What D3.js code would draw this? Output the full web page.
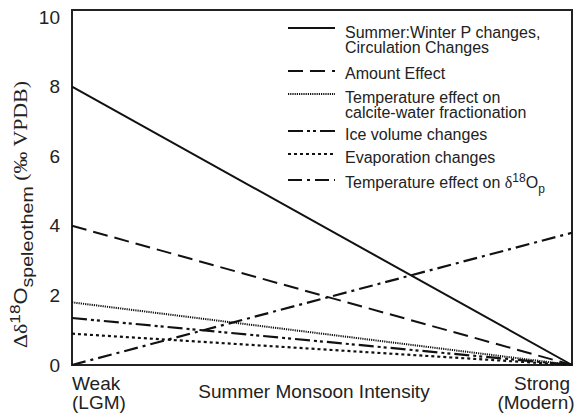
<!DOCTYPE html>
<html><head><meta charset="utf-8">
<script src="https://cdn.jsdelivr.net/npm/d3@7"></script>
<style>
body{margin:0;background:#fff;}
svg text, svg tspan{font-family:"Liberation Sans",Arial,sans-serif;fill:#222;}
</style></head>
<body><svg id="c" width="582" height="415"></svg>
<script>
const categories = ["Weak (LGM)", "Strong (Modern)"];
const seriesNames = ["Summer:Winter P changes, Circulation Changes","Amount Effect","Temperature effect on calcite-water fractionation","Ice volume changes","Evaporation changes","Temperature effect on δ18Op"];
const summerWinter = [8, 0];
const amountEffect = [4, 0];
const tempCalcite = [1.8, 0];
const iceVolume = [1.35, 0];
const evaporation = [0.9, 0];
const tempPrecip = [0, 3.8];
const yTicks = [0, 2, 4, 6, 8, 10];

const series = [
  {name: seriesNames[0], values: summerWinter, dash: null, w: 2},
  {name: seriesNames[1], values: amountEffect, dash: "15,7", w: 2},
  {name: seriesNames[2], values: tempCalcite, dash: "1.2,1", w: 2},
  {name: seriesNames[3], values: iceVolume, dash: "15,4,3,3,3,4", w: 2.2},
  {name: seriesNames[4], values: evaporation, dash: "3,3", w: 2.2},
  {name: seriesNames[5], values: tempPrecip, dash: "14,5,3,5", w: 2.2}
];

const svg = d3.select("#c");
const L = 72, R = 572, T = 10, B = 365;
const x = d3.scalePoint().domain(categories).range([L, R]);
const y = d3.scaleLinear().domain([0, 10.2]).range([B, T]);

// frame
svg.append("rect").attr("x", L).attr("y", T).attr("width", R - L).attr("height", B - T)
  .attr("fill", "none").attr("stroke", "#222").attr("stroke-width", 2);

// y axis (labels only)
const yAxis = d3.axisLeft(y).tickValues(yTicks).tickSize(0).tickPadding(12).tickFormat(d3.format("d"));
const ya = svg.append("g").attr("transform", `translate(${L},0)`).call(yAxis);
ya.select(".domain").remove();
ya.selectAll("text").style("font-size", "19px").style("fill", "#222")
  .attr("font-family", "Liberation Sans, Arial, sans-serif");

// lines
const line = d3.line().x((d, i) => x(categories[i])).y(d => y(d));
series.forEach(s => {
  svg.append("path").datum(s.values).attr("d", line).attr("fill", "none")
    .attr("stroke", "#111").attr("stroke-width", s.w)
    .attr("stroke-dasharray", s.dash);
});

// x labels
const fs = "19px";
const wk = svg.append("text").attr("x", L).attr("y", 390).style("font-size", fs);
wk.append("tspan").attr("x", L).text("Weak");
wk.append("tspan").attr("x", L).attr("dy", 19).text("(LGM)");
const st = svg.append("text").attr("y", 390).attr("text-anchor", "middle").style("font-size", fs);
st.append("tspan").attr("x", 542).text("Strong");
st.append("tspan").attr("x", 536).attr("dy", 19).text("(Modern)");
svg.append("text").attr("x", 314).attr("y", 398).attr("text-anchor", "middle").style("font-size", fs).text("Summer Monsoon Intensity");

// y label
const yl = svg.append("text").attr("transform", "translate(27,348) rotate(-90)")
  .attr("text-anchor", "start").style("font-size", "19px")
  .attr("textLength", 267).attr("lengthAdjust", "spacingAndGlyphs");
yl.append("tspan").style("font-family", "Liberation Serif, Times New Roman, serif").text("Δδ");
yl.append("tspan").attr("dy", -7).style("font-size", "15px").text("18");
yl.append("tspan").attr("dy", 7).text("O");
yl.append("tspan").attr("dy", 6).style("font-size", "17px").text("speleothem");
yl.append("tspan").attr("dy", -6).style("font-family", "Liberation Serif, Times New Roman, serif").text(" (‰ VPDB)");

// legend
const lx0 = 288, lx1 = 335, tx = 345;
const leg = [
  {s: 0, ly: 28, y0: 32, lines: [seriesNames[0].split(", ")[0] + ",", "Circulation Changes"]},
  {s: 1, ly: 71, y0: 73, lines: [seriesNames[1]]},
  {s: 2, ly: 94, y0: 97, lines: ["Temperature effect on", "calcite-water fractionation"]},
  {s: 3, ly: 131, y0: 134, lines: [seriesNames[3]]},
  {s: 4, ly: 154, y0: 157, lines: [seriesNames[4]]},
  {s: 5, ly: 180, y0: 182, lines: null}
];
leg.forEach(g => {
  const s = series[g.s];
  svg.append("line").attr("x1", lx0).attr("x2", lx1).attr("y1", g.ly).attr("y2", g.ly)
    .attr("stroke", "#111").attr("stroke-width", s.w).attr("stroke-dasharray", s.dash);
  if (g.lines) {
    const t = svg.append("text").attr("y", g.y0).attr("dy", "0.35em").style("font-size", "16px");
    g.lines.forEach((txt, i) => {
      t.append("tspan").attr("x", tx).attr("dy", i === 0 ? "0.35em" : 15).text(txt);
    });
  }
});
const lt = svg.append("text").attr("x", tx).attr("y", 182).attr("dy", "0.35em").style("font-size", "16px");
lt.append("tspan").text("Temperature effect on ");
lt.append("tspan").style("font-family", "Liberation Serif, Times New Roman, serif").text("δ");
lt.append("tspan").attr("dy", -6).style("font-size", "12px").text("18");
lt.append("tspan").attr("dy", 6).text("O");
lt.append("tspan").attr("dy", 5).style("font-size", "12px").text("p");
</script></body></html>
